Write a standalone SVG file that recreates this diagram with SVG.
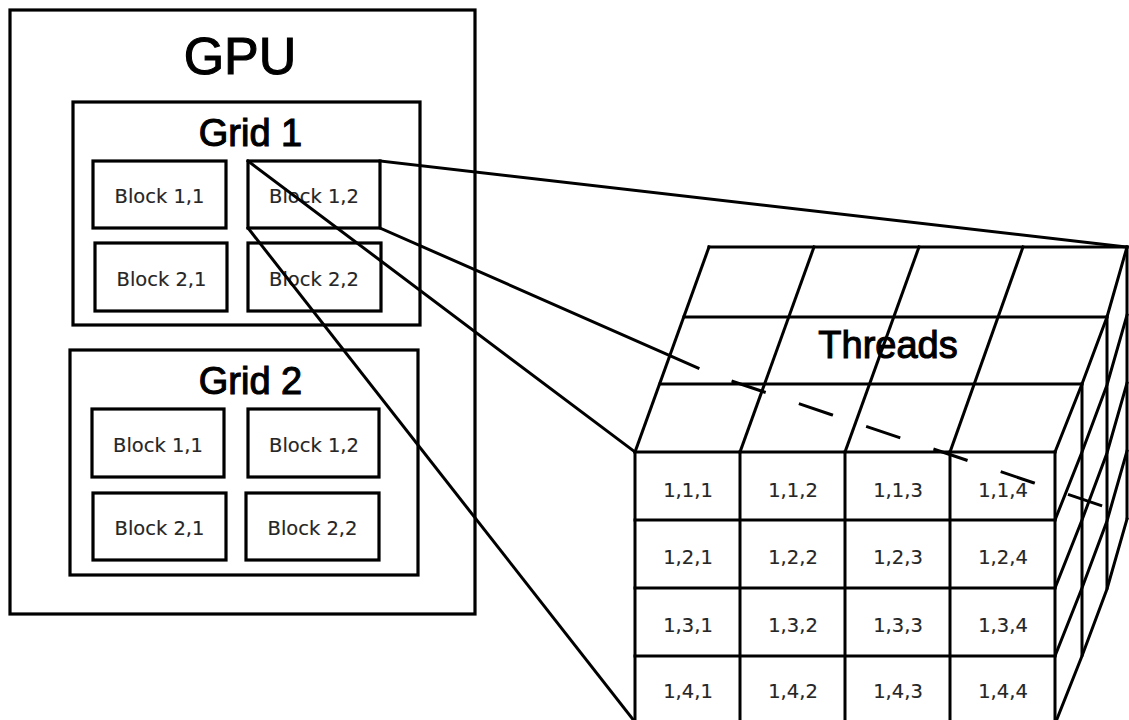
<svg xmlns="http://www.w3.org/2000/svg" width="1129" height="720" viewBox="0 0 1129 720">
<style>
.box{fill:none;stroke:#000;stroke-width:3.2}
.ln{fill:none;stroke:#000;stroke-width:3;stroke-linecap:square}
.title{font-family:"Liberation Sans",Arial,sans-serif;fill:#000;text-anchor:middle;stroke:#000;stroke-width:1.1}
.lbl{font-family:"DejaVu Sans",Verdana,sans-serif;font-size:19.5px;fill:#262626;text-anchor:middle;stroke:#262626;stroke-width:0.15}
.cell{font-family:"DejaVu Sans",Verdana,sans-serif;font-size:19.5px;fill:#262626;text-anchor:middle;stroke:#262626;stroke-width:0.15}
</style>
<rect width="1129" height="720" fill="#fff"/>

<g id="gpu">
<rect class="box" x="10" y="10" width="465" height="604"/>
<text class="title" x="240" y="74" font-size="52">GPU</text>
</g>

<g id="grid1">
<rect class="box" x="73" y="102" width="347" height="223"/>
<text class="title" x="250.5" y="145.5" font-size="38">Grid 1</text>
</g>
<g id="grid1-block-1-1">
<rect class="box" x="93" y="161" width="133" height="67"/>
<text class="lbl" x="159.5" y="202.5">Block 1,1</text>
</g>
<g id="grid1-block-1-2">
<rect class="box" x="248" y="161" width="132" height="67"/>
<text class="lbl" x="314" y="202.5">Block 1,2</text>
</g>
<g id="grid1-block-2-1">
<rect class="box" x="95" y="243" width="132" height="68"/>
<text class="lbl" x="161.5" y="286">Block 2,1</text>
</g>
<g id="grid1-block-2-2">
<rect class="box" x="248" y="243" width="133" height="68"/>
<text class="lbl" x="314" y="286">Block 2,2</text>
</g>

<g id="grid2">
<rect class="box" x="70" y="350" width="348" height="225"/>
<text class="title" x="250.5" y="393.5" font-size="38">Grid 2</text>
</g>
<g id="grid2-block-1-1">
<rect class="box" x="92" y="409" width="132" height="68"/>
<text class="lbl" x="158" y="451.5">Block 1,1</text>
</g>
<g id="grid2-block-1-2">
<rect class="box" x="248" y="409" width="131" height="68"/>
<text class="lbl" x="314" y="451.5">Block 1,2</text>
</g>
<g id="grid2-block-2-1">
<rect class="box" x="93" y="493" width="133" height="67"/>
<text class="lbl" x="159.5" y="535">Block 2,1</text>
</g>
<g id="grid2-block-2-2">
<rect class="box" x="246" y="493" width="133" height="67"/>
<text class="lbl" x="312.5" y="535">Block 2,2</text>
</g>

<g id="threads">
<!-- top face -->
<line class="ln" x1="709" y1="247" x2="1127" y2="247"/>
<line class="ln" x1="684" y1="317" x2="1107" y2="317"/>
<line class="ln" x1="660" y1="384" x2="1082" y2="384"/>
<line class="ln" x1="635" y1="452" x2="709" y2="247"/>
<line class="ln" x1="740" y1="452" x2="814" y2="247"/>
<line class="ln" x1="845" y1="452" x2="919" y2="247"/>
<line class="ln" x1="950" y1="452" x2="1023" y2="247"/>
<text class="title" x="888" y="358" font-size="38">Threads</text>
<!-- front face -->
<line class="ln" x1="635" y1="452" x2="1055" y2="452"/>
<line class="ln" x1="635" y1="520" x2="1055" y2="520"/>
<line class="ln" x1="635" y1="588" x2="1055" y2="588"/>
<line class="ln" x1="635" y1="656" x2="1055" y2="656"/>
<line class="ln" x1="635" y1="452" x2="635" y2="730"/>
<line class="ln" x1="740" y1="452" x2="740" y2="730"/>
<line class="ln" x1="845" y1="452" x2="845" y2="730"/>
<line class="ln" x1="950" y1="452" x2="950" y2="730"/>
<line class="ln" x1="1055" y1="452" x2="1055" y2="730"/>
<!-- right side slices -->
<line class="ln" x1="1082" y1="384" x2="1082" y2="655"/>
<line class="ln" x1="1107" y1="317" x2="1107" y2="588"/>
<line class="ln" x1="1127" y1="247" x2="1127" y2="518"/>
<polyline class="ln" points="1055,452 1082,384 1107,317 1127,247"/>
<polyline class="ln" points="1055,520 1082,452 1107,385 1127,315"/>
<polyline class="ln" points="1055,588 1082,520 1107,453 1127,383"/>
<polyline class="ln" points="1055,656 1082,588 1107,521 1127,451"/>
<polyline class="ln" points="1055,724 1082,656 1107,589 1127,519"/>
<!-- thread labels -->
<text class="cell" x="688" y="497">1,1,1</text>
<text class="cell" x="793" y="497">1,1,2</text>
<text class="cell" x="898" y="497">1,1,3</text>
<text class="cell" x="1003" y="497">1,1,4</text>
<text class="cell" x="688" y="564">1,2,1</text>
<text class="cell" x="793" y="564">1,2,2</text>
<text class="cell" x="898" y="564">1,2,3</text>
<text class="cell" x="1003" y="564">1,2,4</text>
<text class="cell" x="688" y="632">1,3,1</text>
<text class="cell" x="793" y="632">1,3,2</text>
<text class="cell" x="898" y="632">1,3,3</text>
<text class="cell" x="1003" y="632">1,3,4</text>
<text class="cell" x="688" y="698">1,4,1</text>
<text class="cell" x="793" y="698">1,4,2</text>
<text class="cell" x="898" y="698">1,4,3</text>
<text class="cell" x="1003" y="698">1,4,4</text>
</g>

<g id="connectors">
<line class="ln" x1="380" y1="161" x2="1127" y2="247"/>
<line class="ln" x1="380" y1="228" x2="698" y2="368"/>
<line class="ln" x1="733" y1="381.5" x2="1107" y2="507.5" stroke-dasharray="33 38" stroke-linecap="butt"/>
<line class="ln" x1="248" y1="161" x2="635" y2="452"/>
<line class="ln" x1="248" y1="228" x2="635" y2="722"/>
</g>
</svg>
